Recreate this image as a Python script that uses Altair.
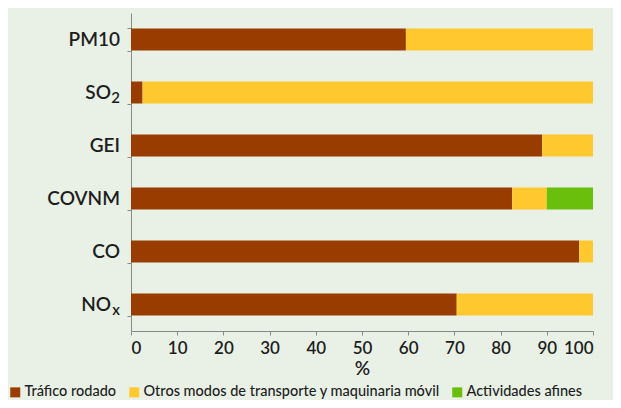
import altair as alt
import pandas as pd

categories = ["PM10", "SO₂", "GEI", "COVNM", "CO", "NOₓ"]
label_base = ["PM10", "SO", "GEI", "COVNM", "CO", "NO"]
label_sub = ["", "2", "", "", "", "x"]
series = ["Tráfico rodado", "Otros modos de transporte y maquinaria móvil", "Actividades afines"]
trafico = [59.5, 2.5, 89.0, 82.5, 97.0, 70.5]
otros = [40.5, 97.5, 11.0, 7.5, 3.0, 29.5]
actividades = [0.0, 0.0, 0.0, 10.0, 0.0, 0.0]
colors = ["#983c00", "#fec82e", "#6abf0c"]
x_ticks = [0, 10, 20, 30, 40, 50, 60, 70, 80, 90, 100]

rows = []
for i, c in enumerate(categories):
    for j, vals in enumerate([trafico, otros, actividades]):
        rows.append({"cat": c, "serie": series[j], "orden": j, "valor": vals[i]})
df = pd.DataFrame(rows)
labels_df = pd.DataFrame({"cat": categories, "base": label_base, "sub": label_sub})

font = "Lato"
ink = "#1e1e1e"

yscale = alt.Scale(domain=categories, paddingInner=0.58, paddingOuter=0.29)

bars = alt.Chart(df).mark_bar(size=22).encode(
    y=alt.Y("cat:N", sort=categories, title=None, scale=yscale,
            axis=alt.Axis(labels=False, tickBand="extent", tickSize=4, tickColor="#8a8a8a",
                          domainColor="#8a8a8a")),
    x=alt.X("valor:Q", stack="zero", title="%",
            scale=alt.Scale(domain=[0, 100], nice=False),
            axis=alt.Axis(values=x_ticks, labelFontSize=17, labelColor=ink, labelFont=font,
                          labelFontWeight=600,
                          tickSize=4, tickColor="#8a8a8a", domainColor="#8a8a8a", grid=False,
                          titleFontSize=19, titleFont=font, titleColor=ink,
                          titleFontWeight=600, titlePadding=3, labelPadding=5)),
    color=alt.Color("serie:N", sort=series,
                    scale=alt.Scale(domain=series, range=colors),
                    legend=alt.Legend(title=None, orient="none", direction="horizontal",
                                      legendX=-123, legendY=372,
                                      labelFont=font, labelFontSize=14.5, labelColor=ink,
                                      labelFontWeight=500,
                                      symbolType="square", symbolSize=100, symbolStrokeWidth=0,
                                      columnPadding=10, labelOffset=2, labelLimit=400)),
    order=alt.Order("orden:Q"),
)

base_text = alt.Chart(labels_df).transform_calculate(
    xoff="datum.sub ? -20 : -11"
).mark_text(align="right", baseline="middle", font=font, fontSize=19, fontWeight=600, color=ink).encode(
    y=alt.Y("cat:N", sort=categories, scale=yscale),
    x=alt.X("xoff:Q", scale=None),
    text="base:N",
)

sub_text = alt.Chart(labels_df).transform_filter("datum.sub != ''").mark_text(
    align="right", baseline="middle", font=font, fontSize=15, fontWeight=600, color=ink, dy=5
).encode(
    y=alt.Y("cat:N", sort=categories, scale=yscale),
    x=alt.value(-11),
    text="sub:N",
)

chart = alt.layer(bars, base_text, sub_text).properties(
    width=462, height=318,
    autosize=alt.AutoSizeParams(type="none"),
    padding={"left": 123, "top": 5, "right": 20, "bottom": 69},
).configure(
    background="#e9f1e6",
).configure_view(stroke=None)

chart.save("out.html", embed_options={"renderer": "svg", "actions": False})
